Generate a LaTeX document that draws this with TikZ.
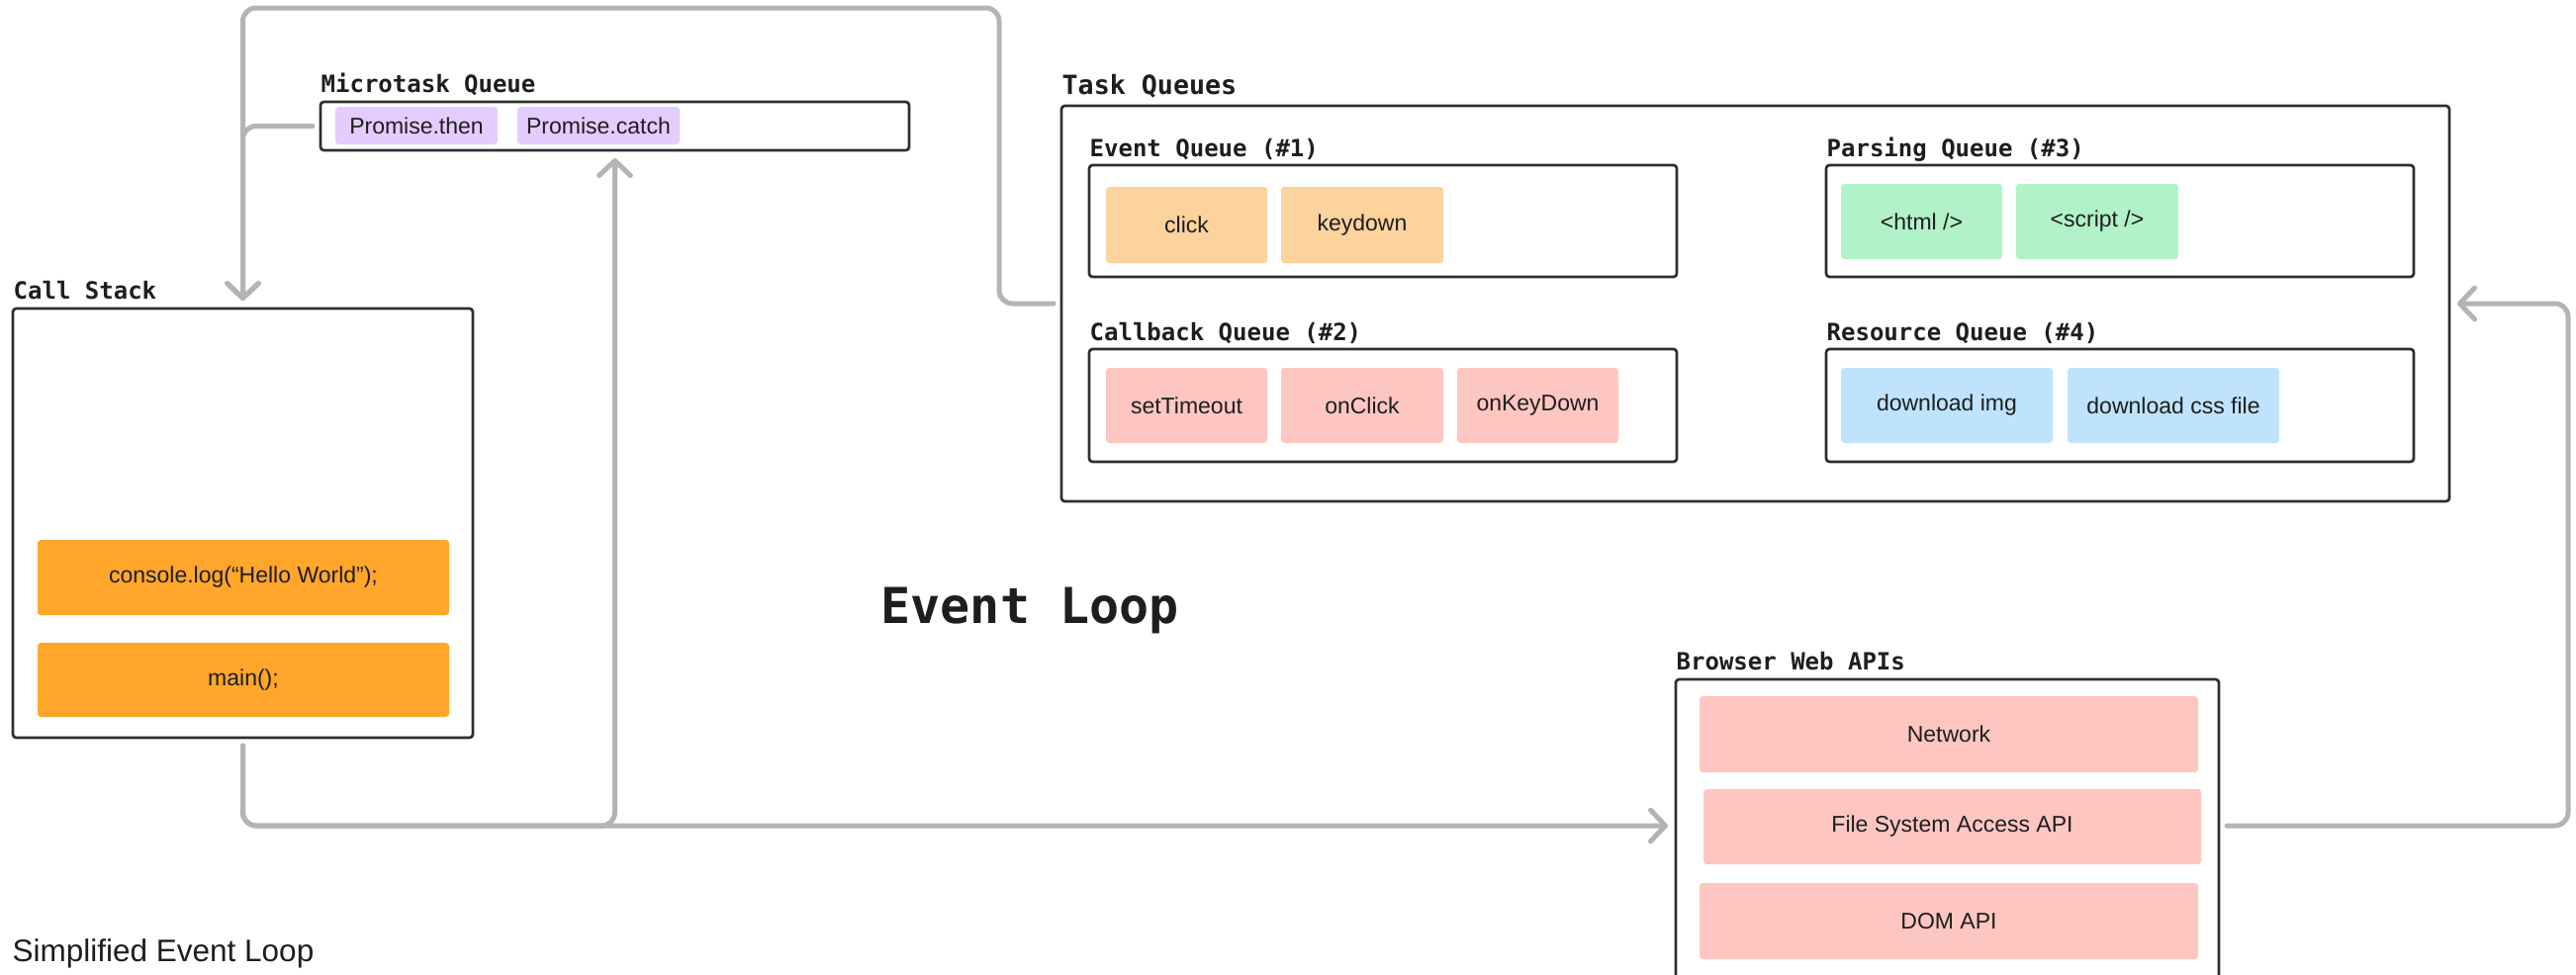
\documentclass[tikz,border=0pt]{standalone}
\usepackage{fontspec}
\setmainfont{Liberation Sans}
\newfontfamily\headfont{DejaVu Sans Mono}
\usetikzlibrary{arrows.meta}

\definecolor{inkc}{HTML}{1E1E1E}
\definecolor{panelc}{HTML}{2E2E2E}
\definecolor{wirec}{HTML}{B4B4B4}
\definecolor{lilac}{HTML}{E5CCFF}
\definecolor{peach}{HTML}{FCD29D}
\definecolor{mint}{HTML}{B1F2C8}
\definecolor{blush}{HTML}{FEC6C1}
\definecolor{sky}{HTML}{BFE3FD}
\definecolor{amber}{HTML}{FFA62B}

\tikzset{
  box at/.style n args={4}{anchor=center,
    minimum width={(#3-#1)*0.3pt}, minimum height={(#4-#2)*0.3pt},
    at={({(#1+#3)/2},{(#2+#4)/2})}},
  panel/.style={draw=panelc, line width=0.8pt, rounded corners=1pt, inner sep=0pt},
  chip/.style={rounded corners=1pt, inner sep=0pt, text=inkc,
    font=\fontsize{6.9pt}{8pt}\selectfont},
  title/.style={anchor=base west, inner sep=0pt, text=inkc,
    font=\headfont\bfseries\fontsize{7.2pt}{8pt}\selectfont},
  conn/.style={draw=wirec, line width=1.5pt, rounded corners=4pt, line cap=round,
    -{Straight Barb[length=4.5pt,width=9.5pt,round]}},
}

\begin{document}
\begin{tikzpicture}[x=0.3pt,y=-0.3pt]
\path[use as bounding box] (0,0) rectangle (2604,985);
\clip (0,0) rectangle (2604,985);
\fill[white] (0,0) rectangle (2604,985);

% microtask queue
\node[panel, box at={324}{103}{919}{152}] (micro) {};
\node[title] (microlbl) at (324,93) {Microtask Queue};
\node[chip, fill=lilac, box at={339}{108}{503}{146}] (pthen) {Promise.then};
\node[chip, fill=lilac, box at={523}{108}{687}{146}] (pcatch) {Promise.catch};

% call stack
\node[panel, box at={13}{312}{478}{746}] (cs) {};
\node[title] (cslbl) at (13,302) {Call Stack};
\node[chip, fill=amber, box at={38}{546}{454}{622}] (logcall) {console.log(“Hello World”);};
\node[chip, fill=amber, box at={38}{650}{454}{725}] (maincall) {main();};

% task queues
\node[panel, box at={1073}{107}{2476}{507}] (tq) {};
\node[title, font=\headfont\bfseries\fontsize{8pt}{9pt}\selectfont] (tqlbl) at (1073,95) {Task Queues};

\node[panel, box at={1101}{167}{1695}{280}] (evq) {};
\node[title] (evqlbl) at (1101,158) {Event Queue (\#1)};
\node[chip, fill=peach, box at={1118}{189}{1281}{266}] (click) {click};
\node[chip, fill=peach, box at={1295}{189}{1459}{266}] (keydown) {keydown};

\node[panel, box at={1846}{167}{2440}{280}] (parq) {};
\node[title] (parqlbl) at (1846,158) {Parsing Queue (\#3)};
\node[chip, fill=mint, box at={1861}{186}{2024}{262}] (html) {<html />};
\node[chip, fill=mint, box at={2038}{186}{2202}{262}] (script) {<script />};

\node[panel, box at={1101}{353}{1695}{467}] (cbq) {};
\node[title] (cbqlbl) at (1101,344) {Callback Queue (\#2)};
\node[chip, fill=blush, box at={1118}{372}{1281}{448}] (settimeout) {setTimeout};
\node[chip, fill=blush, box at={1295}{372}{1459}{448}] (onclick) {onClick};
\node[chip, fill=blush, box at={1473}{372}{1636}{448}] (onkeydown) {onKeyDown};

\node[panel, box at={1846}{353}{2440}{467}] (resq) {};
\node[title] (resqlbl) at (1846,344) {Resource Queue (\#4)};
\node[chip, fill=sky, box at={1861}{372}{2075}{448}] (dlimg) {download img};
\node[chip, fill=sky, box at={2090}{372}{2304}{448}] (dlcss) {download css file};

% browser web apis
\node[panel, box at={1694}{687}{2243}{1010}] (browser) {};
\node[title] (browserlbl) at (1694,677) {Browser Web APIs};
\node[chip, fill=blush, box at={1718}{704}{2222}{781}] (network) {Network};
\node[chip, fill=blush, box at={1722}{798}{2225}{874}] (fsapi) {File System Access API};
\node[chip, fill=blush, box at={1718}{893}{2222}{970}] (domapi) {DOM API};

% headings
\node[anchor=base west, inner sep=0pt, text=inkc,
  font=\headfont\bfseries\fontsize{15pt}{18pt}\selectfont] (looptitle) at (890,630) {Event Loop};
\node[anchor=base west, inner sep=0pt, text=inkc,
  font=\fontsize{9.45pt}{11pt}\selectfont] (caption) at (12,972) {Simplified Event Loop};

% loop routing
\coordinate (bus) at (0,835);
\coordinate (looptop) at (1010,8);
\coordinate (loopright) at (2596,0);

\draw[conn] ([xshift=-2pt]micro.west) -| ([yshift=2pt]cs.north);
\draw[conn] ([xshift=-2pt]tq.west) -| (looptop) -| ([yshift=2pt]cs.north);
\draw[conn] ([yshift=-2pt]cs.south) |- (micro.south |- bus) -- ([yshift=-2pt]micro.south);
\draw[conn] ([yshift=-2pt]cs.south) |- ([xshift=-2pt]browser.west |- bus);
\draw[conn] ([xshift=2pt]browser.east |- bus) -| (loopright |- tq.east) -- ([xshift=2pt]tq.east);
\end{tikzpicture}
\end{document}
